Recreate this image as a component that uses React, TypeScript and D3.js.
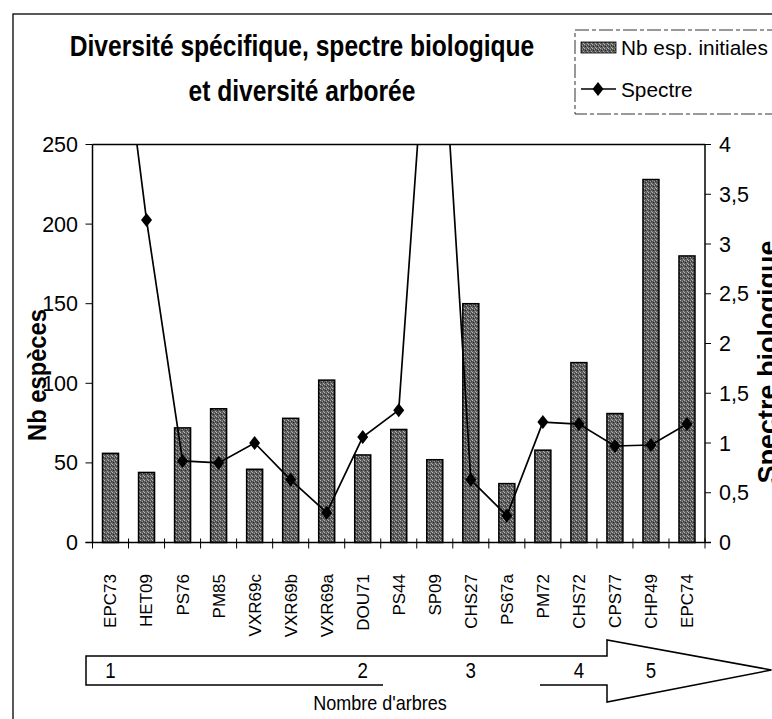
import React from 'react';
import * as d3 from 'd3';

// sites, in the order of the x axis
const sites = ['EPC73', 'HET09', 'PS76', 'PM85', 'VXR69c', 'VXR69b', 'VXR69a', 'DOU71', 'PS44',
  'SP09', 'CHS27', 'PS67a', 'PM72', 'CHS72', 'CPS77', 'CHP49', 'EPC74'];
// Nb esp. initiales (left axis)
const nbEspeces = [56, 44, 72, 84, 46, 78, 102, 55, 71, 52, 150, 37, 58, 113, 81, 228, 180];
// Spectre biologique (right axis), two values run off the top of the plot
const spectre = [6.1, 3.24, 0.82, 0.8, 1.0, 0.63, 0.3, 1.06, 1.33, 6.45, 0.63, 0.27, 1.21, 1.19, 0.97, 0.98, 1.19];
const leftTicks = [0, 50, 100, 150, 200, 250];
const rightTicks = [0, 0.5, 1, 1.5, 2, 2.5, 3, 3.5, 4];
// classes of "Nombre d'arbres" written on the arrow, with the site they sit under
const classes = [
  { label: '1', at: 'EPC73' },
  { label: '2', at: 'DOU71' },
  { label: '3', at: 'CHS27' },
  { label: '4', at: 'CHS72' },
  { label: '5', at: 'CHP49' },
];

const FONT = "'Liberation Sans', Arial, sans-serif";

export default function App() {
  const W = 772;
  const H = 719;
  const plot = { left: 92.5, right: 705, top: 144.5, bottom: 542.5 };

  const x = d3.scaleBand<string>()
    .domain(sites)
    .range([plot.left, plot.right])
    .paddingInner(0.556)
    .paddingOuter(0.278);
  const step = x.step();
  const yL = d3.scaleLinear().domain([0, 250]).range([plot.bottom, plot.top]);
  const yR = d3.scaleLinear().domain([0, 4]).range([plot.bottom, plot.top]);

  const cx = (s: string) => (x(s) as number) + x.bandwidth() / 2;
  const line = d3.line<number>()
    .x((_, i) => cx(sites[i]))
    .y(d => yR(d));

  const fmt = (v: number) => String(v).replace('.', ',');
  const diamond = 'M0,-7L5.5,0L0,7L-5.5,0Z';

  return (
    <svg width={W} height={H} style={{ display: 'block', position: 'absolute', left: 0, top: 0, background: '#fff' }}>
      <defs>
        <pattern id="stipple" width="4" height="4" patternUnits="userSpaceOnUse">
          <rect width="4" height="4" fill="#5e5e5e" />
          <rect x="0" y="0" width="1" height="1" fill="#b8b8b8" />
          <rect x="2" y="1" width="1" height="1" fill="#a0a0a0" />
          <rect x="1" y="2" width="1" height="1" fill="#262626" />
          <rect x="3" y="3" width="1" height="1" fill="#aaaaaa" />
          <rect x="3" y="1" width="1" height="1" fill="#383838" />
        </pattern>
        <clipPath id="plotClip">
          <rect x={plot.left} y={plot.top} width={plot.right - plot.left} height={plot.bottom - plot.top} />
        </clipPath>
      </defs>

      {/* outer frame */}
      <rect x={13} y={14} width={W} height={H} fill="none" stroke="#000" strokeWidth={1.3} />

      {/* title, narrow bold */}
      <g fontFamily={FONT} fontWeight="bold" fontSize={30} textAnchor="middle" fill="#000"
        transform="translate(302,0) scale(0.82,1)">
        <text x={0} y={56}>Diversité spécifique, spectre biologique</text>
        <text x={0} y={101}>et diversité arborée</text>
      </g>

      {/* legend */}
      <g fontFamily={FONT} fontSize={20.8} fill="#000">
        <rect x={575} y={30} width={300} height={84} fill="none" stroke="#333" strokeWidth={1} strokeDasharray="14 3 4 3" />
        <rect x={581} y={42} width={35} height={11} fill="url(#stipple)" stroke="#000" strokeWidth={0.8} />
        <text x={621} y={55}>Nb esp. initiales</text>
        <line x1={581} x2={616} y1={89} y2={89} stroke="#000" strokeWidth={1.5} />
        <path d={diamond} transform="translate(598,89)" fill="#000" />
        <text x={621} y={97}>Spectre</text>
      </g>

      {/* plot frame */}
      <line x1={plot.left} x2={plot.right} y1={plot.top} y2={plot.top} stroke="#000" strokeWidth={1.5} />
      <line x1={plot.left} x2={plot.left} y1={plot.top} y2={plot.bottom} stroke="#000" strokeWidth={1.5} />
      <line x1={plot.right} x2={plot.right} y1={plot.top} y2={plot.bottom} stroke="#000" strokeWidth={1.5} />

      {/* bars */}
      {nbEspeces.map((v, i) => (
        <rect key={sites[i]} x={x(sites[i])} y={yL(v)} width={x.bandwidth()} height={yL(0) - yL(v)}
          fill="url(#stipple)" stroke="#000" strokeWidth={1.5} />
      ))}

      {/* x axis */}
      <line x1={plot.left - 7} x2={plot.right + 6} y1={plot.bottom} y2={plot.bottom} stroke="#000" strokeWidth={1.5} />
      {d3.range(sites.length + 1).map(i => (
        <line key={i} x1={plot.left + step * i} x2={plot.left + step * i} y1={plot.bottom - 4} y2={plot.bottom + 6}
          stroke="#000" strokeWidth={1} />
      ))}

      {/* left axis */}
      <g fontFamily={FONT} fontSize={21.5} fill="#000">
        {leftTicks.map(t => (
          <g key={t}>
            <line x1={plot.left - 7} x2={plot.left} y1={yL(t)} y2={yL(t)} stroke="#000" strokeWidth={1} />
            <text x={78} y={yL(t)} dy="0.35em" textAnchor="end">{t}</text>
          </g>
        ))}
      </g>

      {/* right axis */}
      <g fontFamily={FONT} fontSize={21.5} fill="#000">
        {rightTicks.map(t => (
          <g key={t}>
            <line x1={plot.right} x2={plot.right + 6} y1={yR(t)} y2={yR(t)} stroke="#000" strokeWidth={1} />
            <text x={719} y={yR(t)} dy="0.35em">{fmt(t)}</text>
          </g>
        ))}
      </g>

      {/* spectre line */}
      <g clipPath="url(#plotClip)">
        <path d={line(spectre) || ''} fill="none" stroke="#000" strokeWidth={1.7} />
        {spectre.map((v, i) => (
          <path key={sites[i]} d={diamond} transform={`translate(${cx(sites[i])},${yR(v)})`} fill="#000" />
        ))}
      </g>

      {/* axis titles */}
      <text fontFamily={FONT} fontWeight="bold" fontSize={26} textAnchor="middle"
        textLength={132} lengthAdjust="spacingAndGlyphs"
        transform="translate(46,375) rotate(-90)">Nb espèces</text>
      <text fontFamily={FONT} fontWeight="bold" fontSize={27} textAnchor="middle"
        transform="translate(777,362) rotate(-90)">Spectre biologique</text>

      {/* category labels */}
      <g fontFamily={FONT} fontSize={17} fill="#000">
        {sites.map(s => (
          <text key={s} textAnchor="end" dy="0.35em" transform={`translate(${cx(s)},574) rotate(-90)`}>{s}</text>
        ))}
      </g>

      {/* Nombre d'arbres arrow */}
      <path d="M86,656L607,656L607,640L771.5,670L607,702L607,685L86,685Z" fill="#fff" stroke="#000" strokeWidth={1.5} />
      <rect x={383} y={682} width={157} height={6} fill="#fff" />
      <g fontFamily={FONT} fontSize={22} textAnchor="middle" fill="#000">
        {classes.map(c => (
          <text key={c.label} transform={`translate(${cx(c.at)},670) scale(0.85,1)`} dy="0.35em">{c.label}</text>
        ))}
      </g>
      <text fontFamily={FONT} fontSize={20} textAnchor="middle"
        transform="translate(380,710) scale(0.9,1)">Nombre d'arbres</text>
    </svg>
  );
}
